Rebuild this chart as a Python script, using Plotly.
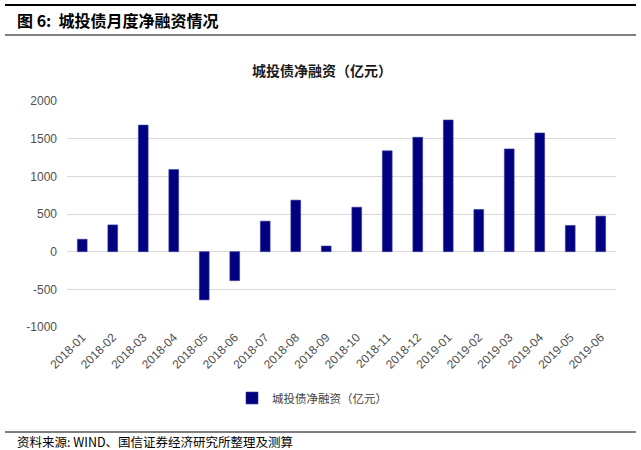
import plotly.graph_objects as go

months = ["2018-01", "2018-02", "2018-03", "2018-04", "2018-05", "2018-06",
          "2018-07", "2018-08", "2018-09", "2018-10", "2018-11", "2018-12",
          "2019-01", "2019-02", "2019-03", "2019-04", "2019-05", "2019-06"]
net_financing = [165, 355, 1680, 1090, -640, -385,
                 405, 684, 75, 590, 1338, 1518,
                 1748, 560, 1364, 1576, 348, 472]
y_ticks = [-1000, -500, 0, 500, 1000, 1500, 2000]

series_name = "城投债净融资（亿元）"

L, R, T, B = 67, 25, 101, 123
W, H = 641, 450
pw = W - L - R
ph = H - T - B


def px(x):
    return (x - L) / pw


def py(y):
    return (H - B - y) / ph


cjk = "Noto Sans CJK SC"
lat = "Liberation Sans, Arial"

fig = go.Figure()
fig.add_trace(go.Bar(
    x=months, y=net_financing, name=series_name,
    marker=dict(color="#000080", line=dict(color="#3a3a9a", width=0.6)),
    width=0.32,
))

fig.update_layout(
    width=W, height=H,
    margin=dict(l=L, r=R, t=T, b=B),
    paper_bgcolor="white", plot_bgcolor="white",
    showlegend=True,
    legend=dict(orientation="h", x=px(312), xanchor="center", y=py(398), yanchor="middle",
                font=dict(family=cjk, size=11.5, color="#404040"),
                itemwidth=30, bgcolor="rgba(0,0,0,0)"),
    xaxis=dict(tickangle=-45, tickfont=dict(family=lat, size=12, color="#505050"),
               showgrid=False, showline=False, ticks="", type="category"),
    yaxis=dict(range=[-1000, 2000], tickvals=y_ticks, ticktext=[str(v) for v in y_ticks],
               tickfont=dict(family=lat, size=12, color="#505050"),
               showgrid=True, gridcolor="#d9d9d9", gridwidth=1,
               zeroline=True, zerolinecolor="#d9d9d9", zerolinewidth=1,
               showline=False, ticks="", ticklabelstandoff=9),
    bargap=0.68,
)

shapes = [
    dict(type="line", xref="paper", yref="paper", x0=px(5), x1=px(636), y0=py(5), y1=py(5),
         line=dict(color="black", width=2)),
    dict(type="line", xref="paper", yref="paper", x0=px(5), x1=px(636), y0=py(35), y1=py(35),
         line=dict(color="black", width=1)),
    dict(type="line", xref="paper", yref="paper", x0=px(5), x1=px(636), y0=py(432), y1=py(432),
         line=dict(color="black", width=1)),
]
fig.update_layout(shapes=shapes)

fig.add_annotation(text="<b>图 6:  城投债月度净融资情况</b>", xref="paper", yref="paper",
                   x=px(15), y=py(20), xanchor="left", yanchor="middle", showarrow=False,
                   font=dict(family=cjk, size=16, color="black"))
fig.add_annotation(text="<b>城投债净融资（亿元）</b>", xref="paper", yref="paper",
                   x=px(322), y=py(70), xanchor="center", yanchor="middle", showarrow=False,
                   font=dict(family=cjk, size=14, color="#1a1a1a"))
fig.add_annotation(text="资料来源: WIND、国信证券经济研究所整理及测算", xref="paper", yref="paper",
                   x=px(15), y=py(441), xanchor="left", yanchor="middle", showarrow=False,
                   font=dict(family=cjk, size=12.5, color="black"))

fig.write_html("out.html")
